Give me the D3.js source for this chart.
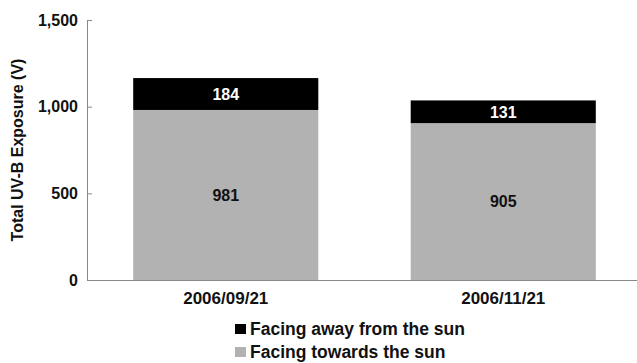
<!DOCTYPE html>
<html>
<head>
<meta charset="utf-8">
<script src="https://cdn.jsdelivr.net/npm/d3@7"></script>
<style>
  html, body { margin: 0; padding: 0; background: #fff; }
  svg { display: block; font-family: "Liberation Sans", Arial, sans-serif; }
</style>
</head>
<body>
<svg id="chart" width="637" height="363"></svg>
<script>
// Sampling dates and UV-B exposure for each sensor orientation
const categories = ["2006/09/21", "2006/11/21"];
const towardsSun = [981, 905];
const awayFromSun = [184, 131];
const seriesNames = ["Facing away from the sun", "Facing towards the sun"];
const yTicks = [0, 500, 1000, 1500];

const FONT = "Liberation Sans, Arial, sans-serif";
const svg = d3.select("#chart");
const margin = { left: 87, top: 20, bottom: 280, right: 642 };

const x = d3.scaleBand()
  .domain(categories)
  .range([margin.left, margin.right])
  .paddingInner(0.333)
  .paddingOuter(0.1665);

const y = d3.scaleLinear().domain([0, 1500]).range([margin.bottom, margin.top]);

const rows = categories.map((c, i) => ({ cat: c, towards: towardsSun[i], away: awayFromSun[i] }));
const stack = d3.stack().keys(["towards", "away"])(rows);
const colors = { towards: "#b2b2b2", away: "#000000" };
const labelColors = { towards: "#111", away: "#fff" };

// Stacked bars with centred value labels
stack.forEach(layer => {
  svg.append("g").selectAll("rect").data(layer).join("rect")
    .attr("x", d => x(d.data.cat))
    .attr("width", x.bandwidth())
    .attr("y", d => y(d[1]))
    .attr("height", d => y(d[0]) - y(d[1]))
    .attr("fill", colors[layer.key]);

  svg.append("g").selectAll("text").data(layer).join("text")
    .attr("x", d => x(d.data.cat) + x.bandwidth() / 2)
    .attr("y", d => y((d[0] + d[1]) / 2))
    .attr("dy", "0.36em")
    .attr("text-anchor", "middle")
    .style("font-size", "16px")
    .style("font-weight", "bold")
    .attr("fill", labelColors[layer.key])
    .text(d => d.data[layer.key]);
});

// Y axis (ticks point into the plot)
const yAxis = svg.append("g")
  .attr("transform", `translate(${margin.left},0)`)
  .call(d3.axisLeft(y).tickValues(yTicks).tickSize(-5).tickSizeOuter(0).tickPadding(9).tickFormat(d3.format(",")));
yAxis.select(".domain").attr("stroke", "#888");
yAxis.selectAll(".tick line").attr("stroke", "#888");
yAxis.selectAll(".tick text")
  .attr("x", -9)
  .style("font-size", "16px")
  .style("font-weight", "bold")
  .style("font-family", FONT)
  .attr("fill", "#111");

// X axis
const xAxis = svg.append("g")
  .attr("transform", `translate(0,${margin.bottom})`)
  .call(d3.axisBottom(x).tickSize(0).tickSizeOuter(0));
xAxis.select(".domain").attr("stroke", "#888").attr("d", `M${margin.left + 0.5},0.5H637`);
xAxis.selectAll(".tick text")
  .attr("y", 24)
  .attr("dy", null)
  .style("font-size", "17px")
  .style("font-weight", "bold")
  .style("font-family", FONT)
  .attr("fill", "#111");

// Axis title
svg.append("text")
  .attr("transform", `translate(23,${(margin.top + margin.bottom) / 2}) rotate(-90)`)
  .attr("text-anchor", "middle")
  .style("font-size", "16px")
  .style("font-weight", "bold")
  .attr("fill", "#111")
  .text("Total UV-B Exposure (V)");

// Legend
const legendColors = [colors.away, colors.towards];
const legend = svg.append("g").attr("transform", "translate(235,335)");
seriesNames.forEach((name, i) => {
  const g = legend.append("g").attr("transform", `translate(0,${i * 23})`);
  g.append("rect").attr("x", 0).attr("y", -11).attr("width", 11).attr("height", 10).attr("fill", legendColors[i]);
  g.append("text")
    .attr("x", 15)
    .style("font-size", "17.5px")
    .style("font-weight", "bold")
    .attr("fill", "#111")
    .text(name);
});
</script>
</body>
</html>
